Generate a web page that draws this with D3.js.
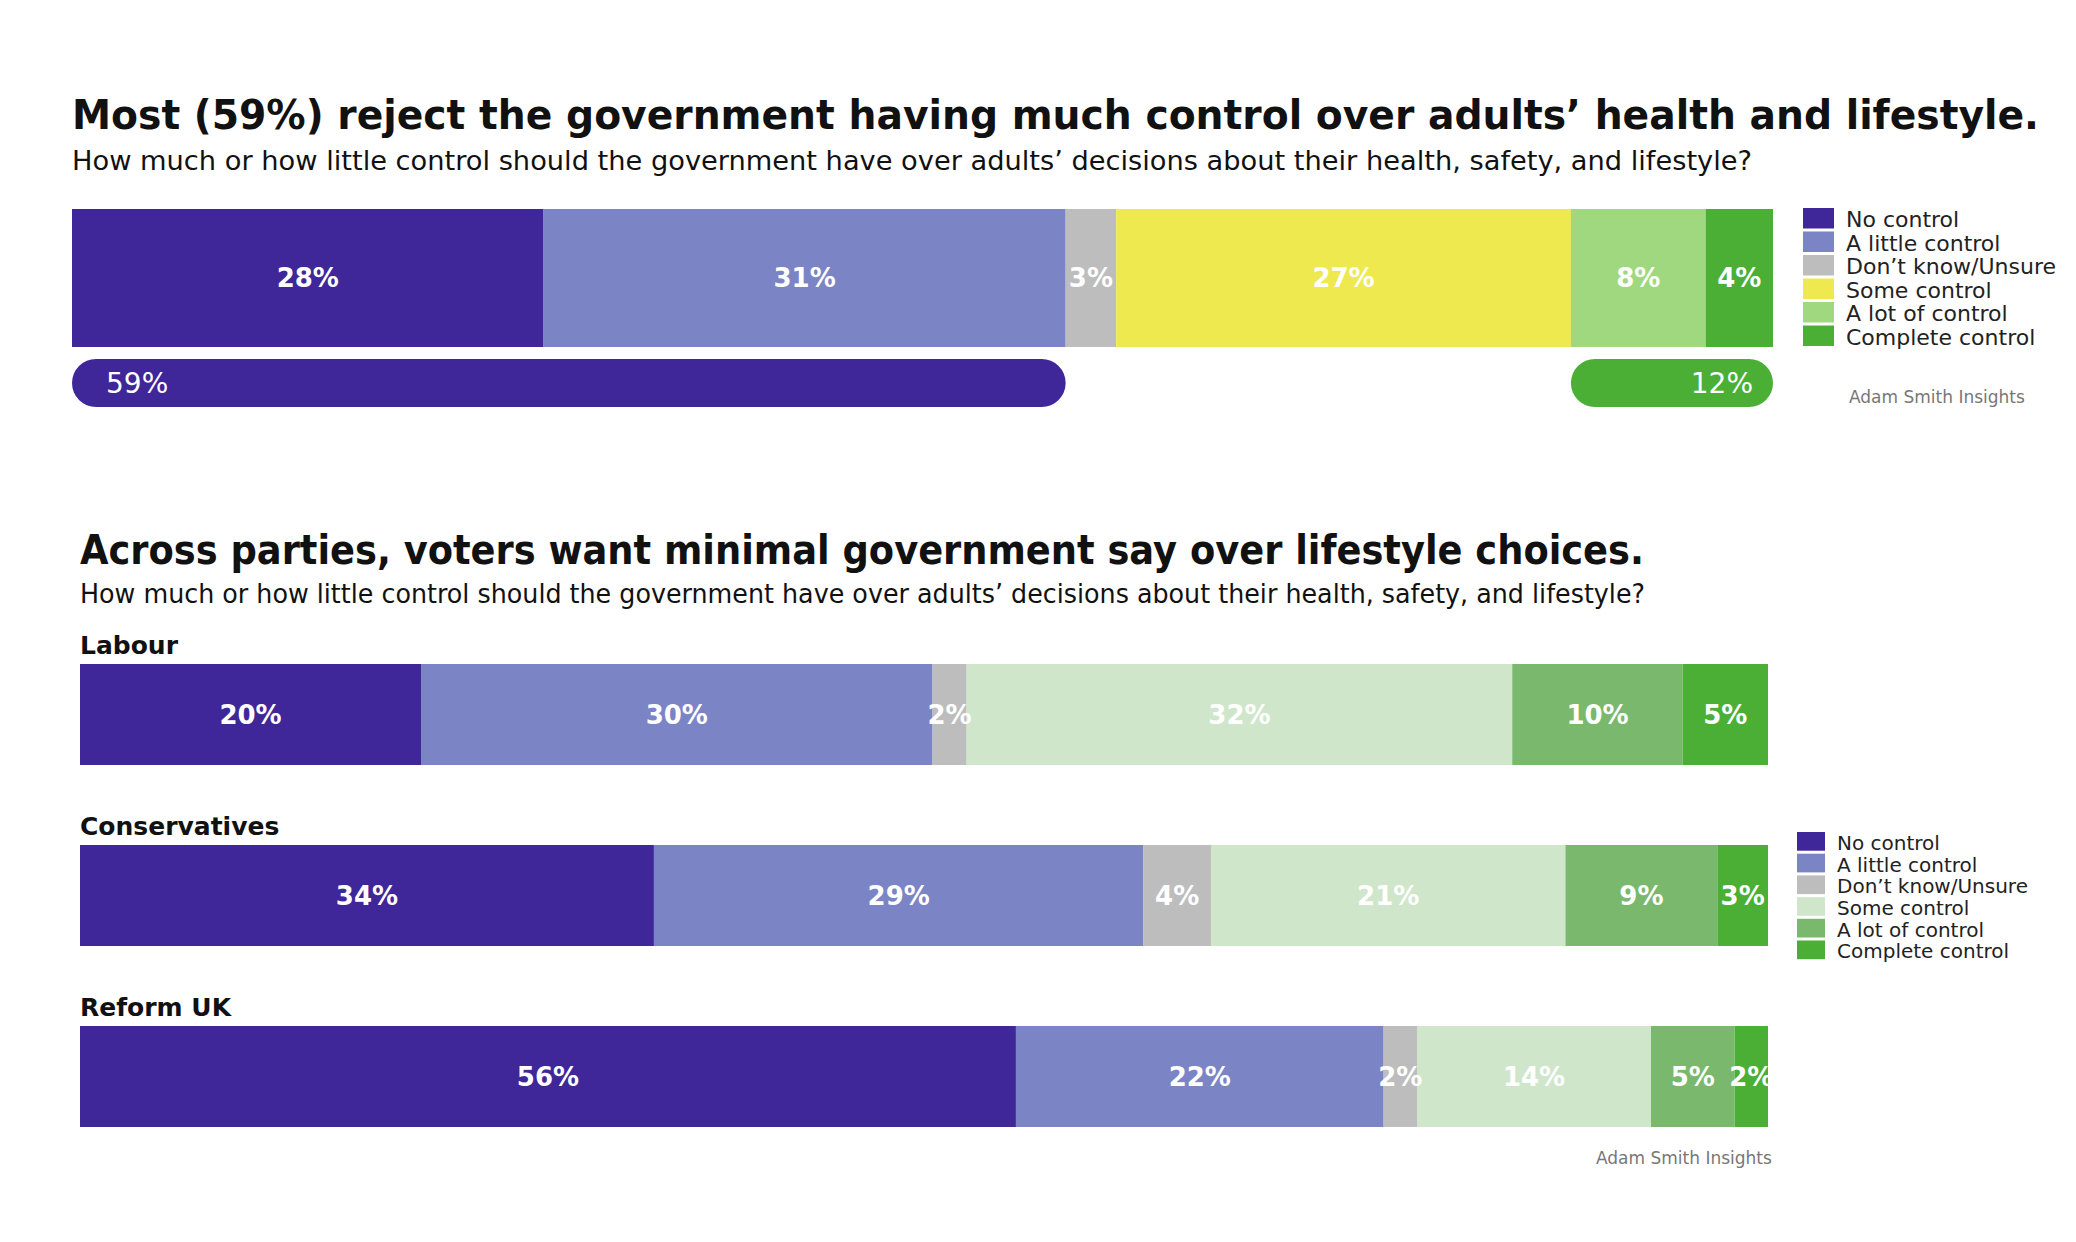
<!DOCTYPE html>
<html><head><meta charset="utf-8">
<script src="https://cdn.jsdelivr.net/npm/d3@7"></script>
<style>body{margin:0;background:#fff}text{font-family:"DejaVu Sans",sans-serif}</style>
</head><body><svg id="c" width="2076" height="1242"></svg>
<script>
const categories = ["No control","A little control","Don\u2019t know/Unsure","Some control","A lot of control","Complete control"]
const overall = [28,31,3,27,8,4]
const parties = ["Labour","Conservatives","Reform UK"]
const partyValues = [[20,30,2,32,10,5],[34,29,4,21,9,3],[56,22,2,14,5,2]]
const netLabels = ["59%","12%"]
const colorsTop = ["#3f2699","#7b84c4","#bdbdbd","#ede94e","#9fd87f","#4aaf34"]
const colorsParty = ["#3f2699","#7b84c4","#bdbdbd","#cfe6cb","#7ab86d","#4aaf34"]

const svg = d3.select("#c")

function title(x,y,t,size,len,weight){
  svg.append("text").attr("x",x).attr("y",y).attr("font-size",size)
    .attr("font-weight",weight).attr("fill","#111")
    .attr("textLength",len).attr("lengthAdjust","spacingAndGlyphs").text(t)
}

function stack(values){
  let acc = 0
  return values.map((v,i)=>{ const d = {i, v, x0: acc}; acc += v; d.x1 = acc; return d })
}

function bar(values, colors, x0, x1, y, h){
  const total = d3.sum(values)
  const x = d3.scaleLinear().domain([0,total]).range([x0,x1])
  const g = svg.append("g")
  const segs = stack(values)
  g.selectAll("rect").data(segs).join("rect")
    .attr("x",d=>x(d.x0)).attr("width",d=>x(d.x1)-x(d.x0))
    .attr("y",y).attr("height",h).attr("fill",d=>colors[d.i])
  g.selectAll("text").data(segs).join("text")
    .attr("x",d=>(x(d.x0)+x(d.x1))/2).attr("y",y+h/2).attr("dy","0.35em")
    .attr("text-anchor","middle").attr("fill","#fff").attr("font-weight","bold")
    .attr("font-size",26).text(d=>d.v+"%")
  return x
}

function legend(x,y,step,sq,size,colors){
  const g = svg.append("g")
  categories.forEach((c,i)=>{
    g.append("rect").attr("x",x).attr("y",y+i*step).attr("width",sq).attr("height",step-3).attr("fill",colors[i])
    g.append("text").attr("x",x+sq+12).attr("y",y+i*step+step/2).attr("dy","0.35em")
      .attr("font-size",size).attr("fill","#222").text(c)
  })
}

// top chart
title(72,129,"Most (59%) reject the government having much control over adults\u2019 health and lifestyle.",40,1967,"bold")
title(72,170,"How much or how little control should the government have over adults\u2019 decisions about their health, safety, and lifestyle?",26,1680,"normal")
const xt = bar(overall, colorsTop, 72, 1773, 209, 138)
const netReject = overall[0]+overall[1], netControl = overall[4]+overall[5]
const tot = d3.sum(overall)
const pills = [
  {a:0, b:netReject, c:colorsTop[0], t:netLabels[0], anchor:"start"},
  {a:tot-netControl, b:tot, c:colorsTop[5], t:netLabels[1], anchor:"end"}
]
pills.forEach(p=>{
  svg.append("rect").attr("x",xt(p.a)).attr("y",359).attr("width",xt(p.b)-xt(p.a)).attr("height",48)
    .attr("rx",24).attr("fill",p.c)
  svg.append("text").attr("x",p.anchor=="start"?xt(p.a)+34:xt(p.b)-20).attr("y",383).attr("dy","0.35em")
    .attr("text-anchor",p.anchor).attr("fill","#fff").attr("font-size",28).text(p.t)
})
legend(1803,208,23.5,31,22,colorsTop)
svg.append("text").attr("x",1849).attr("y",397).attr("dy","0.35em").attr("font-size",17).attr("fill","#777").text("Adam Smith Insights")

// party chart
title(80,564,"Across parties, voters want minimal government say over lifestyle choices.",40,1564,"bold")
title(80,603,"How much or how little control should the government have over adults\u2019 decisions about their health, safety, and lifestyle?",26,1565,"normal")
const rowY = d3.scaleBand().domain(parties).range([664,1127+ (1127-1026)*0 + 80]).paddingInner(0)
const barTops = [664,845,1026]
parties.forEach((p,i)=>{
  const yb = barTops[i]
  svg.append("text").attr("x",80).attr("y",yb-10).attr("font-size",25).attr("font-weight","bold").attr("fill","#111").text(p)
  bar(partyValues[i], colorsParty, 80, 1768, yb, 101)
})
legend(1797,832,21.7,28,20,colorsParty)
svg.append("text").attr("x",1596).attr("y",1158).attr("dy","0.35em").attr("font-size",17).attr("fill","#777").text("Adam Smith Insights")
</script></body></html>
